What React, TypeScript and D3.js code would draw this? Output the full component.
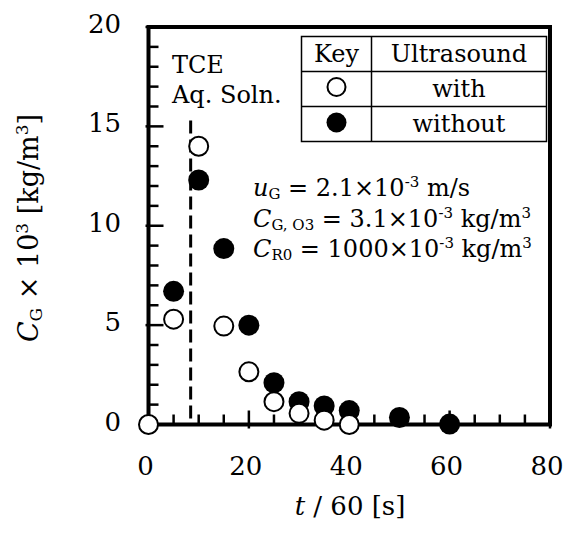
import React, { useRef, useEffect } from 'react'
import * as d3 from 'd3'

// czas [min] i stężenie CG x 10^3 [kg/m3]
const withTime = [0, 5, 10, 15, 20, 25, 30, 35, 40]
const withConc = [0, 5.3, 14.0, 4.95, 2.65, 1.15, 0.56, 0.22, 0]
const withoutTime = [5, 10, 15, 20, 25, 30, 35, 40, 50, 60]
const withoutConc = [6.7, 12.3, 8.85, 5.0, 2.1, 1.15, 0.93, 0.7, 0.35, 0.02]

const xTicks = [0, 20, 40, 60, 80]
const yTicks = [0, 5, 10, 15, 20]
const injectionTime = 8.4
const injectionTop = 15.3

const FONT = 'DejaVu Serif, serif'

const App = () => {
	const svgRef = useRef<SVGSVGElement>(null)

	useEffect(() => {
		const svg = d3.select(svgRef.current)
		svg.selectAll('*').remove()

		const width = 567
		const height = 533

		svg
			.attr('width', width)
			.attr('height', height)
			.style('position', 'absolute')
			.style('left', '0px')
			.style('top', '0px')

		const x = d3.scaleLinear().domain([0, 80]).range([148.5, 550])
		const y = d3.scaleLinear().domain([0, 20]).range([424.5, 27])

		// ramka
		svg
			.append('rect')
			.attr('x', x(0))
			.attr('y', y(20))
			.attr('width', x(80) - x(0))
			.attr('height', y(0) - y(20))
			.attr('fill', 'none')
			.attr('stroke', '#000')
			.attr('stroke-width', 4)

		// podziałki X (do środka)
		const xMinor = d3.range(0, 81, 5)
		svg
			.append('g')
			.selectAll('line')
			.data(xMinor)
			.enter()
			.append('line')
			.attr('x1', d => x(d))
			.attr('x2', d => x(d))
			.attr('y1', d => (d % 20 === 0 ? y(0) + 4 : y(0)))
			.attr('y2', d => (d % 20 === 0 ? y(0) - 14 : y(0) - 10))
			.attr('stroke', '#000')
			.attr('stroke-width', 2.5)

		// podziałki Y
		const yMinor = d3.range(0, 21, 1)
		svg
			.append('g')
			.selectAll('line')
			.data(yMinor)
			.enter()
			.append('line')
			.attr('y1', d => y(d))
			.attr('y2', d => y(d))
			.attr('x1', d => (d % 5 === 0 ? x(0) - 3 : x(0)))
			.attr('x2', d => (d % 5 === 0 ? x(0) + 15 : x(0) + 10))
			.attr('stroke', '#000')
			.attr('stroke-width', 2.5)

		svg
			.append('g')
			.selectAll('text')
			.data(xTicks)
			.enter()
			.append('text')
			.attr('x', d => x(d) - 3)
			.attr('y', 475)
			.attr('text-anchor', 'middle')
			.attr('font-family', FONT)
			.attr('font-size', 26)
			.text(d => d)

		svg
			.append('g')
			.selectAll('text')
			.data(yTicks)
			.enter()
			.append('text')
			.attr('x', 121)
			.attr('y', d => y(d) + 6)
			.attr('text-anchor', 'end')
			.attr('font-family', FONT)
			.attr('font-size', 26)
			.text(d => d)

		// tytuł osi X
		const xt = svg
			.append('text')
			.attr('x', 350)
			.attr('y', 515)
			.attr('text-anchor', 'middle')
			.attr('font-family', FONT)
			.attr('font-size', 26)
		xt.append('tspan').attr('font-style', 'italic').text('t')
		xt.append('tspan').text(' / 60 [s]')

		// tytuł osi Y
		const yt = svg
			.append('text')
			.attr('transform', 'translate(38,228) rotate(-90)')
			.attr('text-anchor', 'middle')
			.attr('font-family', FONT)
			.attr('font-size', 27)
		yt.append('tspan').attr('font-style', 'italic').text('C')
		yt.append('tspan').attr('font-size', 17).attr('dy', 4).text('G')
		yt.append('tspan').attr('dy', -4).text(' × 10')
		yt.append('tspan').attr('font-size', 17).attr('dy', -10).text('3')
		yt.append('tspan').attr('dy', 10).text(' [kg/m')
		yt.append('tspan').attr('font-size', 17).attr('dy', -10).text('3')
		yt.append('tspan').attr('dy', 10).text(']')

		// linia przerywana - dozowanie TCE
		svg
			.append('line')
			.attr('x1', x(injectionTime))
			.attr('x2', x(injectionTime))
			.attr('y1', y(injectionTop))
			.attr('y2', y(0))
			.attr('stroke', '#000')
			.attr('stroke-width', 3)
			.attr('stroke-dasharray', '13,6')

		svg
			.append('text')
			.attr('x', 172)
			.attr('y', 73)
			.attr('font-family', FONT)
			.attr('font-size', 24)
			.text('TCE')
		svg
			.append('text')
			.attr('x', 172)
			.attr('y', 103)
			.attr('font-family', FONT)
			.attr('font-size', 24)
			.text('Aq. Soln.')

		// punkty bez ultradźwięków
		svg
			.append('g')
			.selectAll('circle')
			.data(withoutTime.map((t, i) => [t, withoutConc[i]]))
			.enter()
			.append('circle')
			.attr('cx', d => x(d[0]))
			.attr('cy', d => y(d[1]))
			.attr('r', 10.5)
			.attr('fill', '#000')

		// punkty z ultradźwiękami
		svg
			.append('g')
			.selectAll('circle')
			.data(withTime.map((t, i) => [t, withConc[i]]))
			.enter()
			.append('circle')
			.attr('cx', d => x(d[0]))
			.attr('cy', d => y(d[1]))
			.attr('r', 9.5)
			.attr('fill', '#fff')
			.attr('stroke', '#000')
			.attr('stroke-width', 2)

		// tabela legendy
		const lg = svg.append('g')
		const tl = 301.5
		const tr = 546.5
		const rows = [36.5, 71.5, 106.5, 141.5]
		const colX = 371.5
		lg.append('rect')
			.attr('x', tl)
			.attr('y', rows[0])
			.attr('width', tr - tl)
			.attr('height', rows[3] - rows[0])
			.attr('fill', '#fff')
			.attr('stroke', '#000')
			.attr('stroke-width', 1.5)
		rows.slice(1, 3).forEach(r => {
			lg.append('line').attr('x1', tl).attr('x2', tr).attr('y1', r).attr('y2', r).attr('stroke', '#000').attr('stroke-width', 1.5)
		})
		lg.append('line').attr('x1', colX).attr('x2', colX).attr('y1', rows[0]).attr('y2', rows[3]).attr('stroke', '#000').attr('stroke-width', 1.5)

		const keyX = (tl + colX) / 2
		const txtX = (colX + tr) / 2
		const cell = (tx: number, ty: number, s: string) =>
			lg.append('text').attr('x', tx).attr('y', ty).attr('text-anchor', 'middle').attr('font-family', FONT).attr('font-size', 24).text(s)
		cell(keyX, 62, 'Key')
		cell(txtX, 62, 'Ultrasound')
		cell(txtX, 97, 'with')
		cell(txtX, 132, 'without')
		lg.append('circle').attr('cx', keyX).attr('cy', 87).attr('r', 9).attr('fill', '#fff').attr('stroke', '#000').attr('stroke-width', 2)
		lg.append('circle').attr('cx', keyX).attr('cy', 122.5).attr('r', 10).attr('fill', '#000')

		// warunki
		const cond = [
			{ v: 'u', sub: 'G', rest: ' = 2.1×10', unit: ' m/s', unit3: false, yy: 196 },
			{ v: 'C', sub: 'G, O3', rest: ' = 3.1×10', unit: ' kg/m', unit3: true, yy: 227 },
			{ v: 'C', sub: 'R0', rest: ' = 1000×10', unit: ' kg/m', unit3: true, yy: 257 },
		]
		cond.forEach(c => {
			const t = svg.append('text').attr('x', 253).attr('y', c.yy).attr('font-family', FONT).attr('font-size', 24)
			t.append('tspan').attr('font-style', 'italic').text(c.v)
			t.append('tspan').attr('font-size', 15).attr('dy', 3).text(c.sub)
			t.append('tspan').attr('dy', -3).text(c.rest)
			t.append('tspan').attr('font-size', 15).attr('dy', -9).text('-3')
			t.append('tspan').attr('dy', 9).text(c.unit)
			if (c.unit3) {
				t.append('tspan').attr('font-size', 15).attr('dy', -9).text('3')
			}
		})
	}, [])

	return <svg ref={svgRef}></svg>
}

export default App
